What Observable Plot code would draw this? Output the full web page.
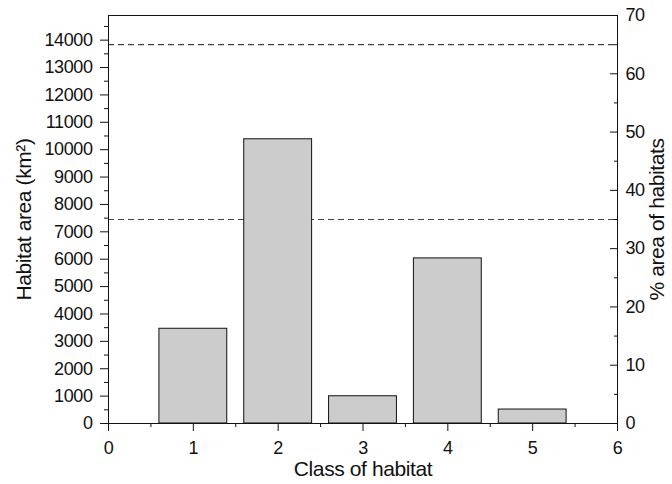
<!DOCTYPE html>
<html><head><meta charset="utf-8">
<script src="https://cdn.jsdelivr.net/npm/d3@7"></script>
<script src="https://cdn.jsdelivr.net/npm/@observablehq/plot@0.6"></script>
<style>
body{margin:0;background:#fff}
svg text{letter-spacing:-0.4px}
g[aria-label$="tick label"]{font-size:18px !important}
g[aria-label$="axis label"]{font-size:21px !important}
g[aria-label$="axis label"] text{font-size:21px !important}
</style>
</head><body><div id="chart"></div>
<script>
const classes = [1, 2, 3, 4, 5];
const areas = [3460, 10380, 995, 6030, 510];
const dashedPercents = [35, 65];
const areaTicks = [0, 1000, 2000, 3000, 4000, 5000, 6000, 7000, 8000, 9000, 10000, 11000, 12000, 13000, 14000];
const areaMinorTicks = [500, 1500, 2500, 3500, 4500, 5500, 6500, 7500, 8500, 9500, 10500, 11500, 12500, 13500, 14500];
const percentTicks = [0, 10, 20, 30, 40, 50, 60, 70];
const percentMinorTicks = [5, 15, 25, 35, 45, 55, 65];
const classTicks = [0, 1, 2, 3, 4, 5, 6];
const classMinorTicks = [0.5, 1.5, 2.5, 3.5, 4.5, 5.5];
const areaMax = 14900, percentMax = 70;
const toArea = p => p * areaMax / percentMax;
const bars = classes.map((c, i) => ({c, area: areas[i]}));
const font = "'Liberation Sans Narrow', 'Arial Narrow', 'Liberation Sans', sans-serif";
const plot = Plot.plot({
  width: 672, height: 484,
  marginLeft: 108, marginRight: 55, marginTop: 15, marginBottom: 61,
  x: {domain: [0, 6]},
  y: {domain: [0, areaMax]},
  style: {fontFamily: font, fontSize: "18px", color: "#111", background: "#fff"},
  marks: [
    Plot.ruleY(dashedPercents.map(toArea), {stroke: "#444", strokeDasharray: "6,4", strokeWidth: 1.2}),
    Plot.rectY(bars, {x1: d => d.c - 0.4, x2: d => d.c + 0.4, y1: 0, y2: "area", fill: "#cccccc", stroke: "#111", strokeWidth: 1}),
    Plot.frame({stroke: "#111"}),
    Plot.axisY(areaMinorTicks, {anchor: "left", tickSize: 4, tickFormat: () => "", label: null}),
    Plot.axisY(areaTicks, {anchor: "left", tickSize: 8, tickPadding: 8, tickFormat: d3.format("d"), label: "Habitat area (km²)", labelAnchor: "center", labelArrow: "none", labelOffset: 92}),
    Plot.axisY(percentMinorTicks.map(toArea), {anchor: "right", tickSize: 4, dx: -4, tickFormat: () => "", label: null}),
    Plot.axisY(percentTicks.map(toArea), {anchor: "right", tickSize: 8, dx: -8, tickFormat: () => "", label: null}),
    Plot.axisY(percentTicks.map(toArea), {anchor: "right", tickSize: 0, tickPadding: 8, tickFormat: v => Math.round(v * percentMax / areaMax), label: "% area of habitats", labelAnchor: "center", labelArrow: "none", labelOffset: 46}),
    Plot.axisX(classMinorTicks, {anchor: "bottom", tickSize: 4, tickFormat: () => "", label: null}),
    Plot.axisX(classTicks, {anchor: "bottom", tickSize: 8, tickPadding: 10, label: "Class of habitat", labelAnchor: "center", labelArrow: "none", labelOffset: 52})
  ]
});
document.getElementById("chart").appendChild(plot);
</script>
</body></html>
